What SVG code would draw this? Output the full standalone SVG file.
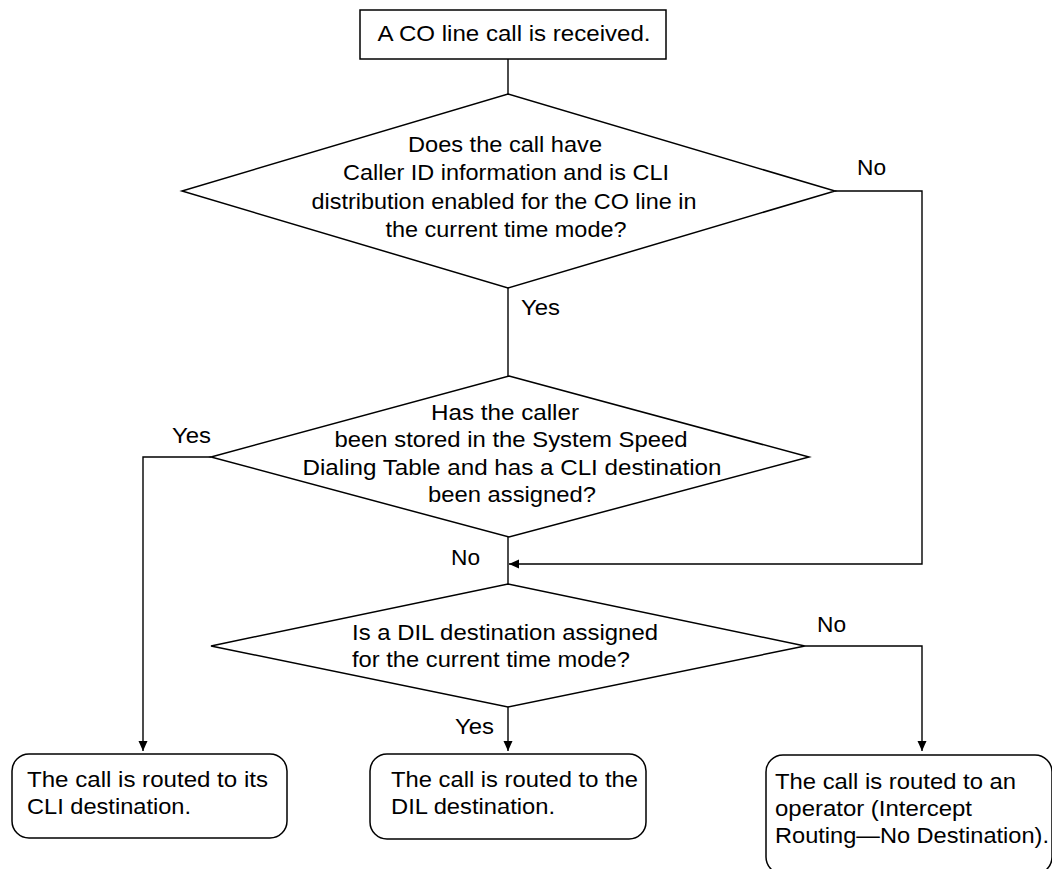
<svg xmlns="http://www.w3.org/2000/svg" width="1052" height="869" viewBox="0 0 1052 869">
<defs>
<marker id="arr" viewBox="0 0 10 10" refX="10" refY="5" markerWidth="10" markerHeight="10" markerUnits="userSpaceOnUse" orient="auto">
<path d="M0,0.5 L10,5 L0,9.5 Z" fill="#000"/>
</marker>
<style>
.t{font-family:"Liberation Sans",Arial,Helvetica,sans-serif;font-size:22px;fill:#000}
.m{text-anchor:middle}
.s{fill:#fff;stroke:#000;stroke-width:1.5}
.c{fill:none;stroke:#000;stroke-width:1.4}
</style>
</defs>
<rect width="1052" height="869" fill="#fff"/>
<g id="connectors">
<path class="c" d="M508,59 V94"/>
<path class="c" d="M508,288 V376"/>
<path class="c" d="M835,191 H922 V564 H509" marker-end="url(#arr)"/>
<path class="c" d="M508,537 V584"/>
<path class="c" d="M211,457 H143 V751" marker-end="url(#arr)"/>
<path class="c" d="M508,707 V751" marker-end="url(#arr)"/>
<path class="c" d="M805,646 H922 V751" marker-end="url(#arr)"/>
<text class="t" x="521" y="315" textLength="39" lengthAdjust="spacingAndGlyphs">Yes</text>
<text class="t" x="857" y="175" textLength="29" lengthAdjust="spacingAndGlyphs">No</text>
<text class="t" x="172" y="443" textLength="39" lengthAdjust="spacingAndGlyphs">Yes</text>
<text class="t" x="451" y="565" textLength="29" lengthAdjust="spacingAndGlyphs">No</text>
<text class="t" x="455" y="734" textLength="39" lengthAdjust="spacingAndGlyphs">Yes</text>
<text class="t" x="817" y="632" textLength="29" lengthAdjust="spacingAndGlyphs">No</text>
</g>
<g id="start">
<rect class="s" x="360" y="10" width="306" height="49"/>
<text class="t m" x="514" y="41" textLength="273" lengthAdjust="spacingAndGlyphs">A CO line call is received.</text>
</g>
<g id="decision1">
<polygon class="s" points="508,94 835,191 508,288 182,191"/>
<text class="t m" x="505" y="151.5" textLength="194" lengthAdjust="spacingAndGlyphs">Does the call have</text>
<text class="t m" x="506" y="180" textLength="326" lengthAdjust="spacingAndGlyphs">Caller ID information and is CLI</text>
<text class="t m" x="504" y="208.5" textLength="385" lengthAdjust="spacingAndGlyphs">distribution enabled for the CO line in</text>
<text class="t m" x="506" y="237" textLength="241" lengthAdjust="spacingAndGlyphs">the current time mode?</text>
</g>
<g id="decision2">
<polygon class="s" points="509,376 809,457 509,537 211,457"/>
<text class="t m" x="505" y="420" textLength="148" lengthAdjust="spacingAndGlyphs">Has the caller</text>
<text class="t m" x="511" y="447" textLength="353" lengthAdjust="spacingAndGlyphs">been stored in the System Speed</text>
<text class="t m" x="512" y="475" textLength="419" lengthAdjust="spacingAndGlyphs">Dialing Table and has a CLI destination</text>
<text class="t m" x="512" y="502" textLength="168" lengthAdjust="spacingAndGlyphs">been assigned?</text>
</g>
<g id="decision3">
<polygon class="s" points="508,584 805,646 508,707 211,646"/>
<text class="t" x="352" y="640" textLength="306" lengthAdjust="spacingAndGlyphs">Is a DIL destination assigned</text>
<text class="t" x="352" y="667" textLength="278" lengthAdjust="spacingAndGlyphs">for the current time mode?</text>
</g>
<g id="cli-destination">
<rect class="s" x="12" y="754" width="275" height="84" rx="17"/>
<text class="t" x="27" y="787" textLength="241" lengthAdjust="spacingAndGlyphs">The call is routed to its</text>
<text class="t" x="27" y="814" textLength="164" lengthAdjust="spacingAndGlyphs">CLI destination.</text>
</g>
<g id="dil-destination">
<rect class="s" x="370" y="754" width="276" height="85" rx="17"/>
<text class="t" x="391" y="787" textLength="247" lengthAdjust="spacingAndGlyphs">The call is routed to the</text>
<text class="t" x="391" y="814" textLength="164" lengthAdjust="spacingAndGlyphs">DIL destination.</text>
</g>
<g id="operator">
<rect class="s" x="766" y="755" width="286" height="119" rx="17"/>
<text class="t" x="775" y="789" textLength="241" lengthAdjust="spacingAndGlyphs">The call is routed to an</text>
<text class="t" x="775" y="816" textLength="197" lengthAdjust="spacingAndGlyphs">operator (Intercept</text>
<text class="t" x="775" y="843" textLength="274" lengthAdjust="spacingAndGlyphs">Routing—No Destination).</text>
</g>
</svg>
